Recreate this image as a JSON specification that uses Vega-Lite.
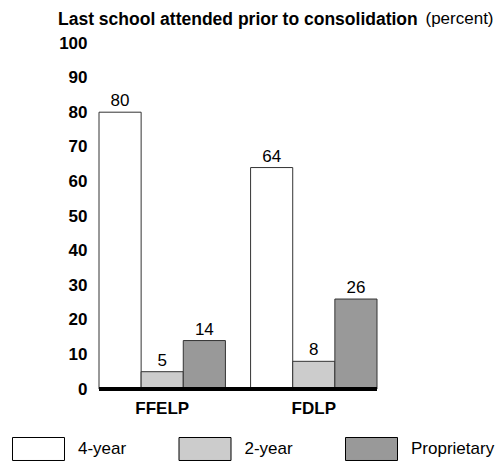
{
  "$schema": "https://vega.github.io/schema/vega-lite/v6.json",
  "width": 278,
  "height": 346,
  "autosize": {"type": "none"},
  "padding": {"left": 99, "top": 43, "right": 118, "bottom": 72},
  "background": "white",
  "config": {
    "font": "Liberation Sans",
    "view": {"stroke": null},
    "title": {"color": "black"}
  },
  "title": {
    "text": "Last school attended prior to consolidation",
    "fontSize": 17.5,
    "fontWeight": "bold",
    "anchor": "start",
    "frame": "group",
    "dx": -41,
    "dy": 37,
    "baseline": "alphabetic",
    "offset": 4
  },
  "data": {
    "values": [
      {"program": "FFELP", "school": "4-year", "percent": 80},
      {"program": "FFELP", "school": "2-year", "percent": 5},
      {"program": "FFELP", "school": "Proprietary", "percent": 14},
      {"program": "FDLP", "school": "4-year", "percent": 64},
      {"program": "FDLP", "school": "2-year", "percent": 8},
      {"program": "FDLP", "school": "Proprietary", "percent": 26}
    ]
  },
  "encoding": {
    "y": {
      "field": "percent",
      "type": "quantitative",
      "scale": {"domain": [0, 100], "nice": false},
      "axis": {
        "title": "(percent)",
        "titleAngle": 0,
        "titleX": 326,
        "titleY": -20,
        "titleAlign": "left",
        "titleBaseline": "alphabetic",
        "titleFontWeight": "normal",
        "titleFontSize": 17,
        "titleColor": "black",
        "values": [0, 10, 20, 30, 40, 50, 60, 70, 80, 90, 100],
        "ticks": false,
        "domain": false,
        "grid": false,
        "labelFontWeight": "bold",
        "labelFontSize": 17,
        "labelPadding": 12,
        "labelColor": "black"
      }
    }
  },
  "layer": [
    {
      "mark": {"type": "bar", "stroke": "#333333", "strokeWidth": 1},
      "encoding": {
        "x": {
          "field": "program",
          "type": "nominal",
          "sort": ["FFELP", "FDLP"],
          "scale": {"paddingInner": 0.166, "paddingOuter": 0},
          "axis": {
            "title": null,
            "labelAngle": 0,
            "ticks": false,
            "domain": false,
            "labelFontWeight": "bold",
            "labelFontSize": 17,
            "labelPadding": 11,
            "labelColor": "black"
          }
        },
        "xOffset": {
          "field": "school",
          "type": "nominal",
          "sort": ["4-year", "2-year", "Proprietary"],
          "scale": {"paddingInner": 0, "paddingOuter": 0}
        },
        "color": {
          "field": "school",
          "type": "nominal",
          "scale": {
            "domain": ["4-year", "2-year", "Proprietary"],
            "range": ["#ffffff", "#cccccc", "#999999"]
          },
          "legend": {
            "orient": "none",
            "legendX": -87,
            "legendY": 379.5,
            "direction": "horizontal",
            "title": null,
            "symbolType": "M-1,-0.442H1V0.442H-1Z",
            "symbolSize": 2704,
            "symbolStrokeColor": "black",
            "symbolStrokeWidth": 1,
            "symbolOpacity": 1,
            "labelFontSize": 17,
            "labelColor": "black",
            "labelOffset": 13,
            "columnPadding": 49.5,
            "padding": 0
          }
        }
      }
    },
    {
      "mark": {"type": "text", "baseline": "alphabetic", "dy": -6, "fontSize": 17, "color": "black"},
      "encoding": {
        "x": {"field": "program", "type": "nominal", "sort": ["FFELP", "FDLP"]},
        "xOffset": {"field": "school", "type": "nominal", "sort": ["4-year", "2-year", "Proprietary"]},
        "text": {"field": "percent", "type": "quantitative"}
      }
    },
    {
      "mark": {"type": "rule", "color": "black", "strokeWidth": 4},
      "encoding": {"y": {"datum": 0}}
    }
  ]
}
